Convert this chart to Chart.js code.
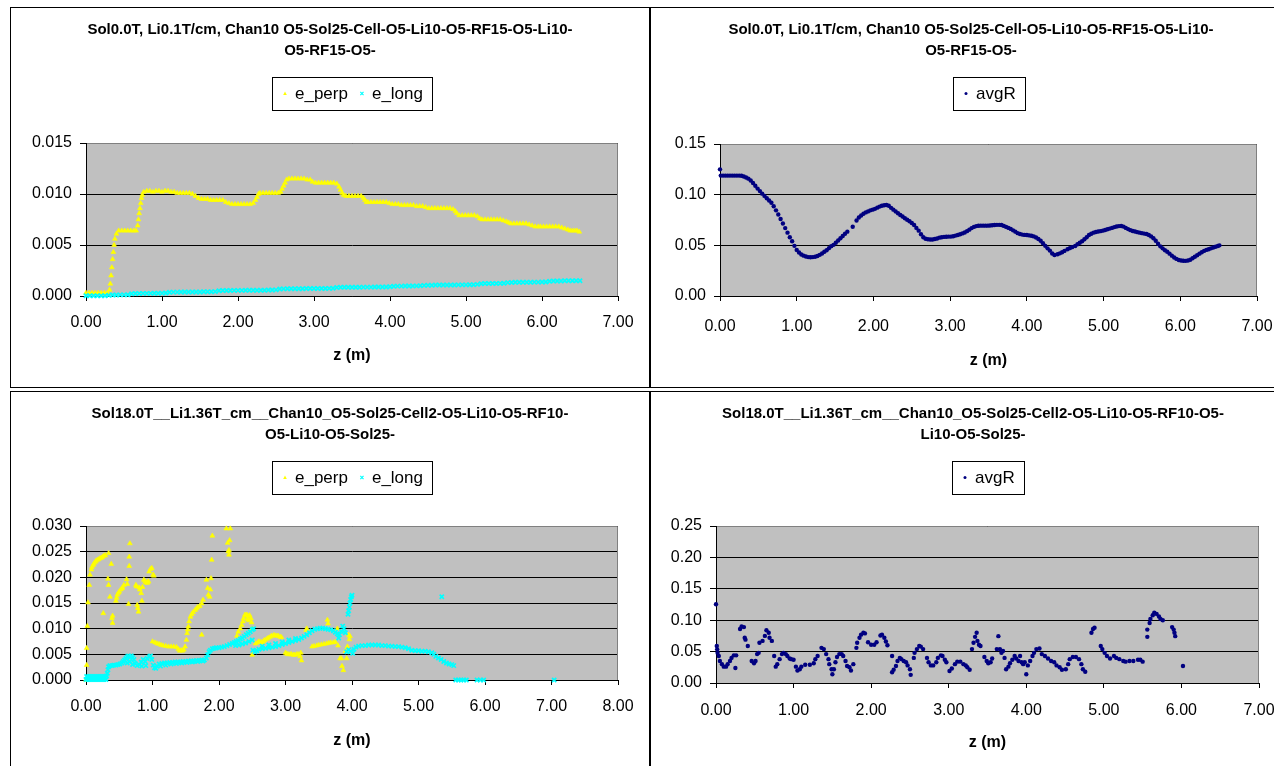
<!DOCTYPE html>
<html>
<head>
<meta charset="utf-8">
<title>Emittance and average radius along z</title>
<script src="https://cdn.jsdelivr.net/npm/chart.js@4.4.0/dist/chart.umd.min.js"></script>
<style>
  html, body { margin: 0; padding: 0; background: #fff; width: 1274px; height: 766px; overflow: hidden; }
  .panel { position: absolute; border: 1px solid #000; background: #fff; }
  .panel canvas { display: block; }
</style>
</head>
<body>
<div class="panel" style="left:10px;top:7px;width:638px;height:379px"><canvas id="c1" width="638" height="379"></canvas></div>
<div class="panel" style="left:650px;top:7px;width:640px;height:379px"><canvas id="c2" width="640" height="379"></canvas></div>
<div class="panel" style="left:10px;top:391px;width:638px;height:374px"><canvas id="c3" width="638" height="374"></canvas></div>
<div class="panel" style="left:650px;top:391px;width:644px;height:374px"><canvas id="c4" width="644" height="374"></canvas></div>
<script>
// ---- Titles ----
const titleLow = ["Sol0.0T, Li0.1T/cm, Chan10 O5-Sol25-Cell-O5-Li10-O5-RF15-O5-Li10-", "O5-RF15-O5-"];
const titleHighLeft = ["Sol18.0T__Li1.36T_cm__Chan10_O5-Sol25-Cell2-O5-Li10-O5-RF10-", "O5-Li10-O5-Sol25-"];
const titleHighRight = ["Sol18.0T__Li1.36T_cm__Chan10_O5-Sol25-Cell2-O5-Li10-O5-RF10-O5-", "Li10-O5-Sol25-"];
const axisTitleX = "z (m)";

// ---- Low-field run: emittances [z (m), value] ----
const lowPerp = [
[0.00,0.0003],[0.04,0.0003],[0.08,0.0003],[0.12,0.0003],[0.16,0.0003],[0.20,0.0003],[0.24,0.0003],[0.28,0.0003],
[0.31,0.0006],[0.32,0.0012],[0.33,0.0020],[0.34,0.0028],[0.35,0.0036],[0.36,0.0043],[0.37,0.0050],[0.38,0.0056],[0.40,0.0061],
[0.43,0.0064],[0.47,0.0064],[0.51,0.0064],[0.55,0.0064],[0.59,0.0064],[0.63,0.0064],[0.66,0.0064],
[0.68,0.0069],[0.69,0.0075],[0.70,0.0081],[0.71,0.0086],[0.72,0.0091],[0.73,0.0096],[0.74,0.0099],
[0.76,0.0102],[0.80,0.0103],[0.84,0.0103],[0.88,0.0102],[0.92,0.0103],[0.96,0.0103],[1.00,0.0102],[1.04,0.0103],[1.08,0.0103],[1.12,0.0102],[1.16,0.0102],
[1.20,0.0101],[1.24,0.0101],[1.28,0.0101],[1.32,0.0101],[1.36,0.0101],[1.40,0.0100],
[1.44,0.0098],[1.48,0.0096],[1.52,0.0095],[1.56,0.0095],[1.60,0.0095],[1.64,0.0094],[1.68,0.0094],[1.72,0.0094],[1.76,0.0094],[1.80,0.0094],
[1.84,0.0092],[1.88,0.0091],[1.92,0.0090],[1.96,0.0090],[2.00,0.0090],[2.04,0.0090],[2.08,0.0090],[2.12,0.0090],[2.16,0.0090],[2.20,0.0091],
[2.23,0.0094],[2.25,0.0097],[2.27,0.0100],[2.29,0.0101],[2.33,0.0101],[2.37,0.0101],[2.41,0.0101],[2.45,0.0101],[2.49,0.0101],[2.53,0.0101],[2.56,0.0102],
[2.58,0.0105],[2.60,0.0108],[2.62,0.0111],[2.64,0.0114],[2.67,0.0115],[2.71,0.0115],[2.75,0.0115],[2.79,0.0115],[2.83,0.0115],[2.87,0.0115],[2.91,0.0114],[2.95,0.0114],
[2.98,0.0112],[3.02,0.0111],[3.06,0.0111],[3.10,0.0111],[3.14,0.0111],[3.18,0.0111],[3.22,0.0111],[3.26,0.0111],[3.30,0.0110],
[3.33,0.0107],[3.35,0.0104],[3.37,0.0101],[3.39,0.0099],[3.42,0.0098],[3.46,0.0098],[3.50,0.0098],[3.54,0.0098],[3.58,0.0098],[3.62,0.0098],
[3.65,0.0096],[3.67,0.0094],[3.69,0.0092],[3.71,0.0092],[3.75,0.0092],[3.79,0.0092],[3.83,0.0092],[3.87,0.0092],[3.91,0.0092],[3.95,0.0092],[3.99,0.0091],
[4.03,0.0090],[4.07,0.0090],[4.11,0.0090],[4.15,0.0089],[4.19,0.0089],[4.23,0.0089],[4.27,0.0089],[4.31,0.0089],[4.35,0.0088],[4.39,0.0088],[4.43,0.0088],
[4.47,0.0087],[4.51,0.0086],[4.55,0.0086],[4.59,0.0086],[4.63,0.0086],[4.67,0.0086],[4.71,0.0086],[4.75,0.0086],[4.79,0.0086],[4.83,0.0085],
[4.86,0.0083],[4.88,0.0081],[4.91,0.0079],[4.95,0.0079],[4.99,0.0079],[5.03,0.0079],[5.07,0.0079],[5.11,0.0079],[5.15,0.0078],
[5.18,0.0076],[5.21,0.0075],[5.25,0.0075],[5.29,0.0075],[5.33,0.0075],[5.37,0.0075],[5.41,0.0075],[5.45,0.0075],[5.49,0.0074],
[5.53,0.0073],[5.56,0.0072],[5.59,0.0071],[5.63,0.0071],[5.67,0.0071],[5.71,0.0071],[5.75,0.0071],[5.79,0.0071],[5.83,0.0070],
[5.87,0.0069],[5.91,0.0068],[5.95,0.0068],[5.98,0.0068],[6.02,0.0068],[6.06,0.0068],[6.10,0.0068],[6.14,0.0068],[6.18,0.0068],[6.22,0.0068],[6.26,0.0067],
[6.30,0.0066],[6.34,0.0065],[6.37,0.0064],[6.40,0.0064],[6.43,0.0064],[6.46,0.0064],[6.49,0.0063]
];
const lowLong = [
[0.00,0.00002],[0.05,0.00002],[0.10,0.00002],[0.15,0.00002],[0.20,0.00002],[0.25,0.00003],[0.30,0.00008],[0.35,0.00010],[0.40,0.00010],[0.45,0.00011],[0.50,0.00011],[0.55,0.00012],
[0.60,0.00022],[0.65,0.00025],[0.70,0.00025],[0.75,0.00026],[0.80,0.00026],[0.85,0.00026],[0.90,0.00027],[0.95,0.00027],[1.00,0.00028],[1.05,0.00030],
[1.10,0.00037],[1.15,0.00038],[1.20,0.00038],[1.25,0.00039],[1.30,0.00039],[1.35,0.00039],[1.40,0.00040],[1.45,0.00040],[1.50,0.00040],[1.55,0.00041],[1.60,0.00041],[1.65,0.00042],[1.70,0.00043],
[1.75,0.00052],[1.80,0.00053],[1.85,0.00054],[1.90,0.00054],[1.95,0.00055],[2.00,0.00055],[2.05,0.00055],[2.10,0.00056],[2.15,0.00056],[2.20,0.00056],[2.25,0.00057],[2.30,0.00057],[2.35,0.00057],[2.40,0.00058],[2.45,0.00058],[2.50,0.00060],
[2.55,0.00069],[2.60,0.00070],[2.65,0.00071],[2.70,0.00071],[2.75,0.00072],[2.80,0.00072],[2.85,0.00072],[2.90,0.00073],[2.95,0.00073],[3.00,0.00073],[3.05,0.00074],[3.10,0.00074],[3.15,0.00074],[3.20,0.00075],[3.25,0.00076],
[3.30,0.00084],[3.35,0.00085],[3.40,0.00085],[3.45,0.00085],[3.50,0.00086],[3.55,0.00086],[3.60,0.00086],[3.65,0.00087],[3.70,0.00087],[3.75,0.00087],[3.80,0.00088],[3.85,0.00088],[3.90,0.00088],[3.95,0.00089],[4.00,0.00090],
[4.05,0.00096],[4.10,0.00097],[4.15,0.00097],[4.20,0.00098],[4.25,0.00098],[4.30,0.00098],[4.35,0.00099],[4.40,0.00100],
[4.45,0.00104],[4.50,0.00106],[4.55,0.00106],[4.60,0.00107],[4.65,0.00107],[4.70,0.00107],[4.75,0.00108],[4.80,0.00108],[4.85,0.00108],[4.90,0.00109],[4.95,0.00109],[5.00,0.00109],[5.05,0.00110],[5.10,0.00110],[5.15,0.00114],
[5.20,0.00121],[5.25,0.00122],[5.30,0.00122],[5.35,0.00123],[5.40,0.00123],[5.45,0.00124],[5.50,0.00125],
[5.55,0.00131],[5.60,0.00133],[5.65,0.00134],[5.70,0.00134],[5.75,0.00135],[5.80,0.00135],[5.85,0.00135],[5.90,0.00136],[5.95,0.00136],[6.00,0.00137],[6.05,0.00138],
[6.10,0.00144],[6.15,0.00147],[6.20,0.00148],[6.25,0.00148],[6.30,0.00149],[6.35,0.00149],[6.40,0.00150],[6.45,0.00150],[6.50,0.00150]
];

// ---- Low-field run: average radius [z (m), avgR] ----
const lowAvgR = [
[0.00,0.1250],[0.01,0.1188],[0.04,0.1188],[0.07,0.1188],[0.10,0.1188],[0.13,0.1188],[0.16,0.1188],[0.19,0.1188],[0.22,0.1188],[0.25,0.1188],[0.28,0.1186],
[0.31,0.1180],[0.34,0.1170],[0.37,0.1158],[0.40,0.1140],[0.43,0.1115],[0.46,0.1088],[0.49,0.1060],[0.52,0.1035],[0.55,0.1010],[0.58,0.0988],[0.61,0.0965],
[0.64,0.0942],[0.67,0.0920],[0.70,0.0885],[0.73,0.0845],[0.76,0.0805],[0.79,0.0760],[0.82,0.0715],[0.85,0.0670],[0.88,0.0625],[0.91,0.0580],[0.94,0.0540],
[0.97,0.0495],[1.00,0.0455],[1.03,0.0430],[1.06,0.0410],[1.09,0.0398],[1.12,0.0390],[1.15,0.0384],[1.18,0.0382],[1.21,0.0384],[1.24,0.0388],[1.27,0.0395],
[1.30,0.0406],[1.33,0.0420],[1.36,0.0436],[1.39,0.0452],[1.42,0.0472],[1.45,0.0492],[1.48,0.0505],[1.51,0.0525],[1.54,0.0548],[1.57,0.0570],[1.60,0.0592],
[1.63,0.0614],[1.66,0.0635],[1.73,0.0684],[1.78,0.0745],[1.81,0.0775],[1.84,0.0795],[1.87,0.0812],[1.90,0.0825],[1.93,0.0835],[1.96,0.0845],[1.99,0.0852],
[2.02,0.0860],[2.05,0.0872],[2.08,0.0882],[2.11,0.0890],[2.14,0.0896],[2.17,0.0898],[2.20,0.0890],[2.23,0.0870],[2.26,0.0852],[2.29,0.0835],[2.32,0.0816],
[2.35,0.0800],[2.38,0.0784],[2.41,0.0767],[2.44,0.0752],[2.47,0.0738],[2.50,0.0720],[2.53,0.0700],[2.56,0.0672],[2.59,0.0645],[2.62,0.0610],[2.65,0.0580],
[2.68,0.0565],[2.71,0.0560],[2.74,0.0558],[2.77,0.0558],[2.80,0.0562],[2.83,0.0568],[2.86,0.0576],[2.89,0.0580],[2.92,0.0583],[2.95,0.0585],[2.98,0.0586],
[3.01,0.0586],[3.04,0.0590],[3.07,0.0596],[3.10,0.0602],[3.13,0.0610],[3.16,0.0618],[3.19,0.0626],[3.22,0.0640],[3.25,0.0655],[3.28,0.0670],[3.31,0.0682],
[3.34,0.0690],[3.37,0.0693],[3.40,0.0694],[3.43,0.0694],[3.46,0.0694],[3.49,0.0694],[3.52,0.0696],[3.55,0.0698],[3.58,0.0700],[3.61,0.0702],[3.64,0.0702],
[3.67,0.0700],[3.70,0.0692],[3.73,0.0682],[3.76,0.0672],[3.79,0.0662],[3.82,0.0648],[3.85,0.0635],[3.88,0.0620],[3.91,0.0612],[3.94,0.0606],[3.97,0.0603],
[4.00,0.0602],[4.03,0.0598],[4.06,0.0594],[4.09,0.0588],[4.12,0.0578],[4.15,0.0562],[4.18,0.0545],[4.21,0.0520],[4.24,0.0495],[4.27,0.0470],[4.30,0.0448],
[4.33,0.0420],[4.36,0.0405],[4.40,0.0412],[4.43,0.0421],[4.46,0.0432],[4.49,0.0445],[4.53,0.0461],[4.56,0.0472],[4.59,0.0482],[4.63,0.0494],[4.66,0.0510],
[4.69,0.0525],[4.72,0.0540],[4.75,0.0560],[4.78,0.0580],[4.81,0.0602],[4.84,0.0615],[4.87,0.0625],[4.90,0.0632],[4.93,0.0636],[4.96,0.0640],[4.99,0.0645],
[5.02,0.0652],[5.05,0.0658],[5.08,0.0665],[5.11,0.0672],[5.14,0.0680],[5.17,0.0686],[5.20,0.0690],[5.23,0.0691],[5.26,0.0685],[5.29,0.0672],[5.32,0.0660],
[5.35,0.0650],[5.38,0.0642],[5.41,0.0636],[5.44,0.0630],[5.47,0.0625],[5.50,0.0620],[5.53,0.0616],[5.56,0.0612],[5.59,0.0602],[5.62,0.0588],[5.65,0.0570],
[5.68,0.0545],[5.71,0.0515],[5.74,0.0490],[5.77,0.0470],[5.80,0.0452],[5.83,0.0437],[5.86,0.0418],[5.89,0.0398],[5.92,0.0380],[5.95,0.0366],[5.98,0.0355],
[6.01,0.0350],[6.04,0.0348],[6.07,0.0347],[6.10,0.0350],[6.13,0.0358],[6.16,0.0372],[6.19,0.0388],[6.22,0.0402],[6.25,0.0418],[6.28,0.0432],[6.31,0.0445],
[6.34,0.0455],[6.37,0.0462],[6.40,0.0470],[6.43,0.0478],[6.46,0.0486],[6.49,0.0494],[6.51,0.0500]
];

// ---- High-field run: emittances [z (m), value] ----
const highPerp = [
[0.00,0.0000],[0.01,0.0029],[0.01,0.0062],[0.02,0.0105],[0.03,0.0151],[0.05,0.0185],[0.06,0.0205],
[0.08,0.0215],[0.09,0.0220],[0.11,0.0224],[0.12,0.0227],[0.14,0.0230],[0.15,0.0232],[0.17,0.0234],[0.19,0.0235],[0.21,0.0237],[0.23,0.0238],[0.25,0.0240],[0.27,0.0242],[0.29,0.0243],
[0.26,0.0130],
[0.34,0.0247],[0.33,0.0197],[0.34,0.0185],[0.36,0.0162],[0.39,0.0120],[0.40,0.0111],[0.40,0.0125],[0.38,0.0226],
[0.45,0.0154],[0.46,0.0160],[0.47,0.0166],[0.49,0.0170],[0.50,0.0172],[0.52,0.0176],[0.54,0.0178],[0.55,0.0180],[0.57,0.0185],
[0.61,0.0196],[0.62,0.0187],[0.64,0.0148],[0.65,0.0240],[0.65,0.0222],[0.66,0.0266],
[0.75,0.0185],[0.76,0.0182],[0.77,0.0146],[0.78,0.0140],[0.79,0.0133],[0.80,0.0180],[0.81,0.0176],[0.83,0.0169],[0.84,0.0154],[0.85,0.0181],[0.87,0.0195],
[0.89,0.0192],[0.90,0.0190],[0.92,0.0189],[0.93,0.0191],[0.94,0.0192],[0.95,0.0211],[0.97,0.0216],[0.99,0.0218],[1.01,0.0205],[1.02,0.0203],
[1.00,0.0075],[1.04,0.0073],[1.07,0.0071],[1.10,0.0070],[1.13,0.0068],[1.16,0.0067],[1.20,0.0066],[1.24,0.0065],[1.28,0.0065],[1.32,0.0065],[1.36,0.0064],
[1.39,0.0060],[1.41,0.0057],[1.43,0.0058],[1.45,0.0057],[1.47,0.0059],
[1.49,0.0065],[1.51,0.0078],[1.52,0.0091],[1.53,0.0098],[1.54,0.0104],[1.55,0.0114],[1.57,0.0123],[1.59,0.0128],[1.61,0.0132],[1.64,0.0136],[1.66,0.0139],
[1.68,0.0142],[1.71,0.0144],[1.74,0.0149],[1.76,0.0156],
[1.74,0.0088],
[1.81,0.0195],[1.83,0.0179],[1.84,0.0166],[1.86,0.0162],[1.87,0.0176],[1.88,0.0198],[1.89,0.0234],[1.90,0.0281],
[2.11,0.0295],[2.17,0.0295],[2.13,0.0267],[2.16,0.0272],[2.14,0.0250],[2.15,0.0244],[2.15,0.0253],
[2.27,0.0086],[2.29,0.0094],[2.32,0.0100],[2.34,0.0107],[2.36,0.0114],[2.37,0.0120],[2.39,0.0127],[2.41,0.0126],[2.42,0.0127],[2.44,0.0124],[2.46,0.0126],
[2.48,0.0120],[2.49,0.0112],[2.50,0.0100],[2.45,0.0116],[2.43,0.0118],
[2.50,0.0049],
[2.55,0.0071],[2.58,0.0073],[2.60,0.0075],[2.63,0.0074],[2.65,0.0073],[2.67,0.0076],[2.69,0.0078],[2.72,0.0080],[2.74,0.0082],[2.77,0.0084],[2.79,0.0086],
[2.82,0.0087],[2.84,0.0087],[2.87,0.0086],[2.89,0.0086],[2.92,0.0084],[2.94,0.0083],
[3.00,0.0053],[3.02,0.0051],[3.04,0.0050],[3.07,0.0050],[3.09,0.0050],[3.12,0.0049],[3.14,0.0049],[3.17,0.0050],[3.19,0.0050],[3.22,0.0046],[3.23,0.0053],[3.24,0.0038],
[3.31,0.0097],[3.32,0.0100],
[3.40,0.0065],[3.43,0.0066],[3.47,0.0067],[3.50,0.0068],[3.54,0.0069],[3.58,0.0070],[3.62,0.0071],[3.65,0.0072],[3.68,0.0073],[3.72,0.0073],[3.75,0.0074],
[3.63,0.0117],[3.64,0.0110],
[3.78,0.0100],[3.79,0.0067],[3.82,0.0042],[3.84,0.0042],[3.85,0.0027],[3.87,0.0019],[3.90,0.0056],[3.92,0.0042],[3.93,0.0065],[3.95,0.0088],[3.96,0.0079],[3.97,0.0085]
];
const highLong = [
[0.00,0.0001],[0.03,0.0001],[0.06,0.0001],[0.09,0.0001],[0.12,0.0001],[0.15,0.0001],[0.18,0.0001],[0.21,0.0001],[0.24,0.0001],[0.27,0.0001],[0.30,0.0001],
[0.01,0.0007],[0.04,0.0007],[0.07,0.0007],[0.10,0.0007],[0.13,0.0007],[0.16,0.0007],[0.19,0.0007],[0.22,0.0007],[0.25,0.0007],[0.28,0.0007],[0.31,0.0008],
[0.32,0.0013],[0.33,0.0020],[0.34,0.0026],[0.36,0.0028],[0.39,0.0028],[0.42,0.0029],[0.45,0.0029],[0.48,0.0030],[0.51,0.0031],[0.54,0.0033],
[0.56,0.0036],[0.58,0.0039],[0.60,0.0042],[0.62,0.0045],[0.64,0.0047],[0.66,0.0045],[0.68,0.0047],[0.70,0.0044],[0.72,0.0040],[0.62,0.0033],[0.66,0.0036],[0.70,0.0030],
[0.74,0.0032],[0.77,0.0028],[0.80,0.0030],[0.83,0.0035],[0.86,0.0040],[0.89,0.0036],[0.92,0.0042],[0.95,0.0045],[0.97,0.0047],[0.99,0.0040],[0.84,0.0027],[0.90,0.0028],
[1.01,0.0029],[1.03,0.0024],[1.05,0.0023],[1.07,0.0027],
[1.10,0.0031],[1.14,0.0032],[1.18,0.0033],[1.22,0.0033],[1.26,0.0034],[1.30,0.0034],[1.34,0.0035],[1.38,0.0035],[1.42,0.0035],[1.46,0.0036],[1.50,0.0036],
[1.54,0.0037],[1.58,0.0037],[1.62,0.0037],[1.66,0.0038],[1.70,0.0038],[1.74,0.0039],[1.78,0.0039],
[1.12,0.0027],[1.20,0.0029],[1.28,0.0031],[1.36,0.0032],[1.44,0.0033],[1.52,0.0034],[1.60,0.0035],[1.68,0.0036],[1.76,0.0037],
[1.81,0.0043],[1.83,0.0049],[1.85,0.0055],[1.87,0.0058],[1.90,0.0061],[1.93,0.0062],[1.96,0.0063],[2.00,0.0063],[2.04,0.0064],[2.08,0.0065],[2.12,0.0067],[2.16,0.0069],[2.20,0.0071],
[2.23,0.0073],[2.26,0.0075],[2.29,0.0077],[2.32,0.0080],[2.35,0.0082],[2.38,0.0085],[2.41,0.0088],[2.44,0.0091],[2.47,0.0094],[2.50,0.0098],[2.52,0.0100],
[2.25,0.0067],[2.30,0.0068],[2.35,0.0070],[2.40,0.0072],[2.45,0.0075],[2.50,0.0078],
[2.51,0.0058],[2.54,0.0055],[2.57,0.0057],
[2.60,0.0060],[2.65,0.0061],[2.70,0.0062],[2.75,0.0063],[2.80,0.0064],[2.85,0.0065],[2.90,0.0067],[2.95,0.0069],[3.00,0.0071],[3.05,0.0073],[3.10,0.0075],[3.15,0.0077],[3.20,0.0079],
[2.65,0.0066],[2.75,0.0068],[2.85,0.0071],[2.95,0.0074],[3.05,0.0078],[3.15,0.0081],
[3.24,0.0082],[3.28,0.0085],[3.32,0.0088],[3.36,0.0092],[3.40,0.0096],[3.44,0.0099],[3.48,0.0100],[3.52,0.0101],[3.56,0.0101],[3.60,0.0100],[3.64,0.0099],[3.68,0.0098],[3.72,0.0096],
[3.75,0.0093],[3.78,0.0090],[3.81,0.0088],[3.84,0.0095],[3.86,0.0105],[3.88,0.0100],[3.90,0.0092],[3.80,0.0082],
[3.94,0.0128],[3.95,0.0135],[3.96,0.0142],[3.97,0.0150],[3.98,0.0157],[3.99,0.0162],[4.00,0.0165],
[3.92,0.0055],[3.95,0.0059],[3.98,0.0056],[4.01,0.0052],[4.03,0.0060],
[4.06,0.0064],[4.10,0.0066],[4.15,0.0067],[4.20,0.0067],[4.25,0.0068],[4.30,0.0068],[4.35,0.0068],[4.40,0.0068],[4.45,0.0067],[4.50,0.0067],[4.55,0.0066],
[4.60,0.0066],[4.65,0.0065],[4.70,0.0065],[4.75,0.0064],[4.80,0.0063],[4.85,0.0061],[4.90,0.0058],[4.95,0.0057],[5.00,0.0057],[5.05,0.0056],[5.10,0.0056],
[5.15,0.0055],[5.20,0.0053],[5.23,0.0050],[5.26,0.0046],[5.30,0.0043],[5.34,0.0040],[5.38,0.0036],[5.42,0.0033],[5.46,0.0031],[5.50,0.0030],[5.53,0.0028],
[5.56,0.0000],[5.60,0.0000],[5.64,0.0000],[5.68,0.0000],[5.72,0.0000],[5.88,0.0000],[5.93,0.0000],[5.98,0.0000],
[5.35,0.0162],[7.04,0.0000]
];

// ---- High-field run: average radius [z (m), avgR] ----
const highAvgR = [
[0.00,0.1255],[0.01,0.0588],[0.015,0.0536],[0.02,0.0480],[0.036,0.0430],[0.05,0.0350],[0.077,0.0300],[0.10,0.0260],[0.13,0.0260],[0.15,0.0300],[0.18,0.0350],
[0.20,0.0400],[0.23,0.0440],[0.26,0.0440],[0.25,0.0240],
[0.31,0.0860],[0.33,0.0900],[0.36,0.0890],[0.37,0.0720],[0.38,0.0690],[0.41,0.0590],
[0.46,0.0350],[0.49,0.0315],[0.51,0.0350],[0.53,0.0460],[0.55,0.0480],
[0.56,0.0640],[0.60,0.0670],[0.63,0.0750],[0.65,0.0840],[0.68,0.0800],[0.69,0.0720],[0.72,0.0670],
[0.75,0.0430],[0.77,0.0260],[0.79,0.0300],[0.82,0.0380],[0.85,0.0460],[0.87,0.0480],[0.90,0.0460],[0.92,0.0430],[0.95,0.0390],[0.97,0.0380],[1.00,0.0370],
[1.03,0.0260],[1.05,0.0200],[1.08,0.0220],[1.10,0.0260],[1.15,0.0290],[1.21,0.0290],[1.26,0.0315],[1.28,0.0380],[1.31,0.0430],
[1.36,0.0560],[1.39,0.0540],[1.42,0.0460],[1.45,0.0380],[1.46,0.0300],[1.49,0.0220],[1.50,0.0140],
[1.52,0.0220],[1.54,0.0330],[1.56,0.0415],[1.59,0.0460],[1.62,0.0460],[1.64,0.0430],[1.67,0.0350],[1.69,0.0270],[1.72,0.0250],[1.74,0.0200],[1.77,0.0300],
[1.81,0.0560],[1.82,0.0640],[1.85,0.0720],[1.87,0.0770],[1.90,0.0800],[1.92,0.0790],
[1.96,0.0650],[2.00,0.0610],[2.04,0.0610],[2.07,0.0650],
[2.12,0.0756],[2.14,0.0770],[2.17,0.0720],[2.19,0.0660],[2.21,0.0600],
[2.27,0.0430],[2.27,0.0170],[2.29,0.0210],[2.32,0.0270],[2.34,0.0350],[2.37,0.0400],[2.39,0.0380],[2.42,0.0350],[2.45,0.0330],[2.47,0.0280],[2.50,0.0220],[2.51,0.0130],
[2.55,0.0400],[2.56,0.0480],[2.59,0.0540],[2.62,0.0590],[2.64,0.0580],[2.67,0.0540],
[2.72,0.0400],[2.74,0.0330],[2.77,0.0280],[2.80,0.0280],[2.84,0.0330],[2.86,0.0400],[2.90,0.0440],[2.92,0.0430],[2.95,0.0370],[2.97,0.0330],
[3.01,0.0190],[3.04,0.0230],[3.08,0.0300],[3.11,0.0340],[3.15,0.0340],[3.19,0.0300],[3.22,0.0280],[3.24,0.0250],[3.27,0.0210],
[3.30,0.0540],[3.32,0.0640],[3.34,0.0735],[3.36,0.0800],[3.37,0.0670],[3.39,0.0610],[3.41,0.0590],
[3.46,0.0415],[3.49,0.0350],[3.51,0.0315],[3.54,0.0330],[3.56,0.0390],
[3.62,0.0540],[3.64,0.0746],[3.66,0.0540],[3.68,0.0480],[3.70,0.0510],[3.72,0.0400],
[3.74,0.0220],[3.77,0.0260],[3.79,0.0315],[3.82,0.0370],[3.85,0.0430],[3.87,0.0390],[3.90,0.0350],[3.92,0.0430],[3.94,0.0330],[3.96,0.0300],[3.98,0.0330],[4.00,0.0140],[4.02,0.0280],
[4.05,0.0350],[4.08,0.0430],[4.10,0.0480],[4.13,0.0540],[4.17,0.0550],[4.20,0.0460],[4.24,0.0430],[4.28,0.0390],[4.32,0.0350],[4.36,0.0330],[4.39,0.0280],[4.43,0.0250],[4.46,0.0210],
[4.51,0.0220],[4.54,0.0300],[4.56,0.0380],[4.60,0.0415],[4.64,0.0415],[4.68,0.0380],[4.71,0.0300],[4.73,0.0220],[4.76,0.0180],
[4.84,0.0800],[4.86,0.0860],[4.88,0.0880],
[4.96,0.0590],[4.98,0.0540],[5.01,0.0480],[5.04,0.0430],[5.08,0.0390],[5.13,0.0430],[5.16,0.0400],[5.20,0.0380],[5.25,0.0350],[5.28,0.0340],[5.33,0.0350],
[5.38,0.0350],[5.44,0.0370],[5.47,0.0370],[5.50,0.0340],
[5.56,0.0735],[5.56,0.0850],[5.59,0.0956],[5.60,0.1020],[5.63,0.1080],[5.65,0.1120],[5.68,0.1100],[5.71,0.1060],[5.73,0.1020],[5.76,0.1000],
[5.88,0.0890],[5.90,0.0850],[5.91,0.0800],[5.92,0.0746],
[6.02,0.0270]
];

// ---- Marker styles ----
const FONT = '"Liberation Sans", Arial, Helvetica, sans-serif';
const perpStyle = { pointStyle: 'triangle', pointRadius: 2.8, backgroundColor: '#ffff00', borderColor: '#ffff00', borderWidth: 0.6, order: 1 };
const longStyle = { pointStyle: 'crossRot', pointRadius: 3.0, backgroundColor: '#00ffff', borderColor: '#00ffff', borderWidth: 1.7, order: 0 };
const avgStyle  = { pointStyle: 'circle', pointRadius: 2.2, backgroundColor: '#000080', borderColor: '#000080', borderWidth: 0, order: 0 };

Chart.defaults.font.family = FONT;
Chart.defaults.color = '#000';

// Grey plot-area fill and its light frame on the top and right edges
const plotBackdrop = {
  id: 'plotBackdrop',
  beforeDraw(chart) {
    const { ctx, chartArea: a } = chart;
    ctx.save();
    ctx.fillStyle = '#c0c0c0';
    ctx.fillRect(a.left, a.top, a.right - a.left, a.bottom - a.top);
    ctx.restore();
  },
  beforeDatasetsDraw(chart) {
    const { ctx, chartArea: a } = chart;
    ctx.save();
    ctx.strokeStyle = '#808080';
    ctx.lineWidth = 1;
    ctx.beginPath();
    ctx.moveTo(Math.round(a.left) + 1, Math.round(a.top) + 0.5);
    ctx.lineTo(Math.round(a.right) - 0.5, Math.round(a.top) + 0.5);
    ctx.lineTo(Math.round(a.right) - 0.5, Math.round(a.bottom));
    ctx.stroke();
    ctx.restore();
  }
};

// Boxed legend centred over the plot area
function drawMarker(ctx, style, x, y) {
  ctx.save();
  ctx.fillStyle = style.backgroundColor;
  ctx.strokeStyle = style.borderColor;
  if (style.pointStyle === 'triangle') {
    ctx.beginPath();
    ctx.moveTo(x, y - 2); ctx.lineTo(x + 1.8, y + 1.6); ctx.lineTo(x - 1.8, y + 1.6);
    ctx.closePath(); ctx.fill();
  } else if (style.pointStyle === 'crossRot') {
    ctx.lineWidth = 1.2;
    ctx.beginPath();
    ctx.moveTo(x - 1.6, y - 1.6); ctx.lineTo(x + 1.6, y + 1.6);
    ctx.moveTo(x + 1.6, y - 1.6); ctx.lineTo(x - 1.6, y + 1.6);
    ctx.stroke();
  } else {
    ctx.beginPath(); ctx.arc(x, y, 1.5, 0, Math.PI * 2); ctx.fill();
  }
  ctx.restore();
}
const boxedLegend = {
  id: 'boxedLegend',
  afterDraw(chart, args, opts) {
    const { ctx, chartArea: a } = chart;
    const sets = chart.data.datasets.slice().sort((p, q) => (p.legendIndex || 0) - (q.legendIndex || 0));
    ctx.save();
    ctx.font = '17px ' + FONT;
    const padL = 13, gap = 10, between = 14, padR = 9;
    const widths = sets.map(s => ctx.measureText(s.label).width);
    let w = padL + padR + between * (sets.length - 1);
    widths.forEach(tw => { w += gap + tw; });
    const left = Math.round((a.left + a.right) / 2 - w / 2);
    const top = opts.top, h = opts.height;
    ctx.fillStyle = '#fff';
    ctx.fillRect(left, top, w, h);
    ctx.strokeStyle = '#000';
    ctx.lineWidth = 1;
    ctx.strokeRect(left + 0.5, top + 0.5, Math.round(w), h);
    let x = left + padL;
    const cy = top + h / 2;
    ctx.textBaseline = 'middle';
    sets.forEach((s, i) => {
      drawMarker(ctx, s, x, cy);
      ctx.fillStyle = '#000';
      ctx.fillText(s.label, x + gap, cy + 1);
      x += gap + widths[i] + between;
    });
    ctx.restore();
  }
};

function makeChart(id, cfg) {
  const canvas = document.getElementById(id);
  const W = canvas.width;
  const side = W - cfg.plotRight;
  return new Chart(canvas, {
    type: 'scatter',
    data: {
      datasets: cfg.series.map((s, i) => Object.assign({
        label: s.label,
        legendIndex: i,
        xAxisID: 'x',
        yAxisID: 'y',
        data: s.points.map(p => ({ x: p[0], y: p[1] })),
        clip: false
      }, s.style))
    },
    options: {
      responsive: false,
      animation: false,
      devicePixelRatio: 1,
      events: [],
      layout: { padding: 0 },
      plugins: {
        legend: { display: false },
        tooltip: { enabled: false },
        title: {
          display: true,
          text: cfg.title,
          color: '#000',
          font: { family: FONT, size: 15, weight: 'bold', lineHeight: 1.4 },
          padding: { top: 11, bottom: cfg.plotTop - 11 - 42 }
        },
        boxedLegend: { top: 69, height: 33 }
      },
      scales: {
        x: {
          type: 'linear',
          min: 0, max: cfg.xMax,
          afterFit: s => { s.height = canvas.height - cfg.plotBottom; },
          ticks: { stepSize: 1, padding: cfg.xTickPad, color: '#000', font: { size: 16 }, maxRotation: 0,
                   callback: v => Number(v).toFixed(2) },
          grid: { display: true, drawOnChartArea: false, drawTicks: true, tickLength: 5, color: '#000' },
          border: { display: true, color: '#000', width: 1 },
          title: { display: true, text: axisTitleX, color: '#000', font: { size: 16, weight: 'bold' },
                   padding: { top: 0, bottom: cfg.xTitlePad } }
        },
        y: {
          type: 'linear',
          position: 'left',
          min: 0, max: cfg.yMax,
          afterFit: s => { s.width = cfg.plotLeft; },
          ticks: { stepSize: cfg.yStep, padding: 8, color: '#000', font: { size: 16 },
                   callback: v => Number(v).toFixed(cfg.yDigits) },
          grid: { color: '#000', lineWidth: 1, drawTicks: true, tickLength: 6 },
          border: { display: true, color: '#000', width: 1 }
        },
        // empty strip on the right so the plot area keeps its place and the title stays centred
        rightMargin: {
          type: 'linear',
          axis: 'y',
          position: 'right',
          display: true,
          min: 0, max: 1,
          afterFit: s => { s.width = side; },
          ticks: { display: false },
          grid: { display: false, drawTicks: false },
          border: { display: false }
        }
      }
    },
    plugins: [plotBackdrop, boxedLegend]
  });
}

makeChart('c1', {
  title: titleLow, xMax: 7, yMax: 0.015, yStep: 0.005, yDigits: 3,
  plotLeft: 75, plotRight: 607, plotTop: 135, plotBottom: 288, xTickPad: 12, xTitlePad: 22,
  series: [
    { label: 'e_perp', points: lowPerp, style: perpStyle },
    { label: 'e_long', points: lowLong, style: longStyle }
  ]
});
makeChart('c2', {
  title: titleLow, xMax: 7, yMax: 0.15, yStep: 0.05, yDigits: 2,
  plotLeft: 69, plotRight: 606, plotTop: 136, plotBottom: 288, xTickPad: 16, xTitlePad: 17,
  series: [
    { label: 'avgR', points: lowAvgR, style: avgStyle }
  ]
});
makeChart('c3', {
  title: titleHighLeft, xMax: 8, yMax: 0.030, yStep: 0.005, yDigits: 3,
  plotLeft: 75, plotRight: 607, plotTop: 134, plotBottom: 288, xTickPad: 12, xTitlePad: 16,
  series: [
    { label: 'e_perp', points: highPerp, style: perpStyle },
    { label: 'e_long', points: highLong, style: longStyle }
  ]
});
makeChart('c4', {
  title: titleHighRight, xMax: 7, yMax: 0.25, yStep: 0.05, yDigits: 2,
  plotLeft: 65, plotRight: 608, plotTop: 134, plotBottom: 291, xTickPad: 13, xTitlePad: 14,
  series: [
    { label: 'avgR', points: highAvgR, style: avgStyle }
  ]
});
</script>
</body>
</html>
